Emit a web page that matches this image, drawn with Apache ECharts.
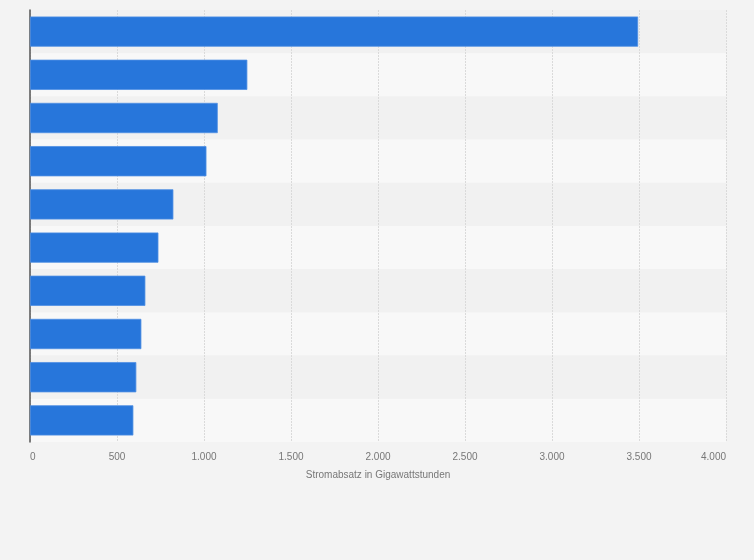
<!DOCTYPE html>
<html>
<head>
<meta charset="utf-8">
<script src="https://cdn.jsdelivr.net/npm/echarts@6/dist/echarts.min.js"></script>
<style>
	html, body { margin: 0; padding: 0; background: #f3f3f3; }
	#chart { width: 754px; height: 560px; }
</style>
</head>
<body>
<div id="chart"></div>
<script>
// Rang der Unternehmen (Beschriftungen im Original ausgeblendet)
var categories = ['1', '2', '3', '4', '5', '6', '7', '8', '9', '10'];
// Stromabsatz in GWh
var values = [3495, 1249, 1079, 1014, 824, 738, 663, 640, 611, 594];
var xTicks = [0, 500, 1000, 1500, 2000, 2500, 3000, 3500, 4000];

(function(){
	var myChart = echarts.init(document.getElementById('chart'));

	function fmt(v) {
		return String(v).replace(/\B(?=(\d{3})+(?!\d))/g, '.');
	}

	var option = {
		backgroundColor: '#f3f3f3',
		animation: false,
		grid: { left: 30, right: 28, top: 10, bottom: 118 },
		xAxis: {
			type: 'value',
			min: xTicks[0],
			max: xTicks[xTicks.length - 1],
			interval: xTicks[1] - xTicks[0],
			name: 'Stromabsatz in Gigawattstunden',
			nameLocation: 'middle',
			nameGap: 28,
			nameTextStyle: { color: '#777', fontSize: 10, fontFamily: 'Arial, Liberation Sans' },
			axisLine: { show: false },
			axisTick: { show: false },
			axisLabel: {
				color: '#777', fontSize: 10, margin: 10,
				fontFamily: 'Arial, Liberation Sans',
				alignMinLabel: 'left',
				alignMaxLabel: 'right',
				formatter: fmt
			},
			splitLine: { show: true, lineStyle: { color: '#dadada', type: [2, 1], width: 1 } }
		},
		yAxis: {
			type: 'category',
			data: categories,
			inverse: true,
			axisLine: { show: true, lineStyle: { color: '#555', width: 1.5 } },
			axisTick: { show: false },
			axisLabel: { show: false },
			splitArea: { show: true, areaStyle: { color: ['#f1f1f1', '#f8f8f8'] } }
		},
		series: [
			{
				type: 'bar',
				data: values,
				barCategoryGap: '30%',
				itemStyle: { color: '#2776db', borderColor: '#4f8fe3', borderWidth: 0.8 }
			}
		]
	};
	myChart.setOption(option);
})();
</script>
</body>
</html>
